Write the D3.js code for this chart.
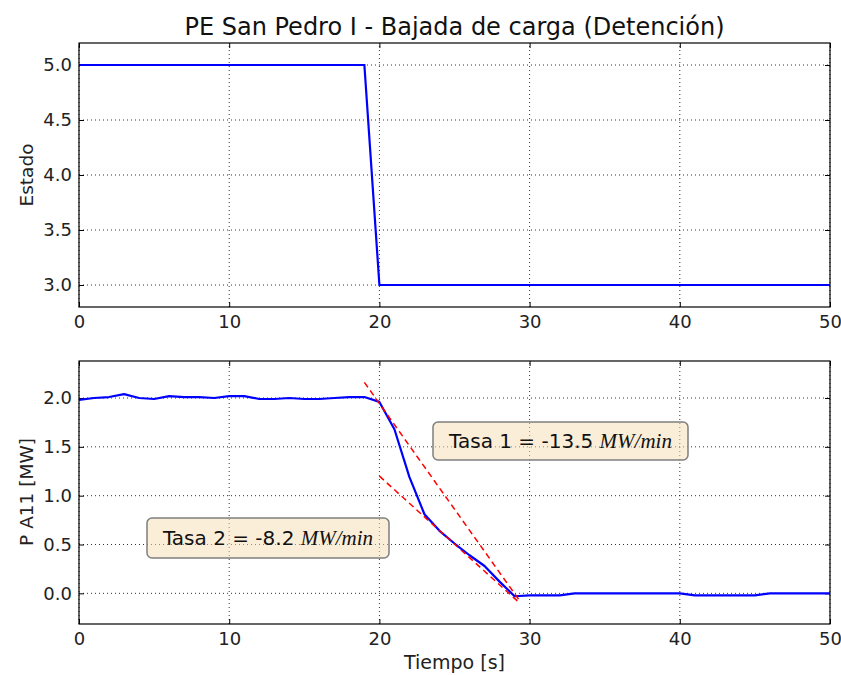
<!DOCTYPE html>
<html>
<head>
<meta charset="utf-8">
<script src="https://cdn.jsdelivr.net/npm/d3@7"></script>
<style>
  body { margin: 0; background: #fff; }
  svg { font-family: "DejaVu Sans", sans-serif; }
</style>
</head>
<body>
<div id="chart"></div>
<script>
// data
var estadoT = [0, 19, 20, 50];
var estadoV = [5, 5, 3, 3];

var potT = [0, 1, 2, 3, 4, 5, 6, 7, 8, 9, 10, 11, 12, 13, 14, 15, 16, 17, 18, 19, 20,
            21, 22, 23, 24, 25, 26, 27, 28, 29, 30, 31, 32, 33, 34, 35, 36, 37, 38, 39, 40,
            41, 42, 43, 44, 45, 46, 47, 48, 49, 50];
var potV = [1.98, 2.0, 2.01, 2.04, 2.0, 1.99, 2.02, 2.01, 2.01, 2.0, 2.02, 2.02, 1.99, 1.99, 2.0, 1.99, 1.99, 2.0, 2.01, 2.01, 1.96,
            1.68, 1.19, 0.81, 0.64, 0.51, 0.39, 0.28, 0.12, -0.03, -0.02, -0.02, -0.02, 0.0, 0.0, 0.0, 0.0, 0.0, 0.0, 0.0, 0.0,
            -0.02, -0.02, -0.02, -0.02, -0.02, 0.0, 0.0, 0.0, 0.0, 0.0];

// fitted rate lines (dashed red)
var tasa1T = [19, 29.4];
var tasa1V = [2.16, -0.09];
var tasa2T = [20, 29.2];
var tasa2V = [1.2, -0.08];

var xTicks = [0, 10, 20, 30, 40, 50];
var topTicks = [3.0, 3.5, 4.0, 4.5, 5.0];
var botTicks = [0.0, 0.5, 1.0, 1.5, 2.0];

var W = 841, H = 675;
var left = 79, right = 830;

var svg = d3.select("#chart").append("svg")
  .attr("width", W)
  .attr("height", H);

var x = d3.scaleLinear().domain([0, 50]).range([left, right]);
var yTop = d3.scaleLinear().domain([2.8, 5.2]).range([307, 43]);
var yBot = d3.scaleLinear().domain([-0.314, 2.379]).range([624, 361]);

function drawPanel(y, yticks, ylabel, yLabelY) {
  var g = svg.append("g");
  var y0 = y.range()[0], y1 = y.range()[1];

  // grid
  g.selectAll(".gx").data(xTicks).enter().append("line")
    .attr("x1", function(d){ return x(d); }).attr("x2", function(d){ return x(d); })
    .attr("y1", y0).attr("y2", y1)
    .style("stroke", "#000").style("stroke-width", 0.8)
    .style("stroke-dasharray", "1,3");
  g.selectAll(".gy").data(yticks).enter().append("line")
    .attr("x1", left).attr("x2", right)
    .attr("y1", function(d){ return y(d); }).attr("y2", function(d){ return y(d); })
    .style("stroke", "#000").style("stroke-width", 0.8)
    .style("stroke-dasharray", "1,3");

  // inward ticks on all sides
  var ax = d3.axisBottom(x).tickValues(xTicks).tickSizeInner(-5).tickSizeOuter(0).tickFormat(d3.format("d"));
  var gxa = g.append("g").attr("transform", "translate(0," + y0 + ")").call(ax);
  gxa.select(".domain").remove();
  gxa.selectAll("text").attr("dy", "0").attr("y", 21)
    .style("font-size", "18px").style("fill", "#222").style("font-family", "DejaVu Sans");
  var axt = d3.axisTop(x).tickValues(xTicks).tickSizeInner(-5).tickSizeOuter(0).tickFormat("");
  var gxt = g.append("g").attr("transform", "translate(0," + y1 + ")").call(axt);
  gxt.select(".domain").remove();

  var ay = d3.axisLeft(y).tickValues(yticks).tickSizeInner(-5).tickSizeOuter(0).tickFormat(d3.format(".1f"));
  var gya = g.append("g").attr("transform", "translate(" + left + ",0)").call(ay);
  gya.select(".domain").remove();
  gya.selectAll("text").attr("x", -7)
    .style("font-size", "18px").style("fill", "#222").style("font-family", "DejaVu Sans");
  var ayr = d3.axisRight(y).tickValues(yticks).tickSizeInner(-5).tickSizeOuter(0).tickFormat("");
  var gyr = g.append("g").attr("transform", "translate(" + right + ",0)").call(ayr);
  gyr.select(".domain").remove();

  g.selectAll(".tick line").style("stroke", "#000");

  // label
  svg.append("text")
    .attr("transform", "translate(33," + yLabelY + ") rotate(-90)")
    .attr("text-anchor", "middle")
    .style("font-size", "18.5px").style("fill", "#222")
    .text(ylabel);
  return g;
}

function frame(y) {
  svg.append("rect")
    .attr("x", left).attr("y", y.range()[1])
    .attr("width", right - left).attr("height", y.range()[0] - y.range()[1])
    .style("fill", "none").style("stroke", "#000").style("stroke-width", 1.2);
}

// ---- top panel
drawPanel(yTop, topTicks, "Estado", 175);
var estado = estadoT.map(function(t, i){ return [t, estadoV[i]]; });
svg.append("path")
  .datum(estado)
  .attr("d", d3.line().x(function(d){ return x(d[0]); }).y(function(d){ return yTop(d[1]); }))
  .style("fill", "none").style("stroke", "#0000ff").style("stroke-width", 2.2);
frame(yTop);

svg.append("text")
  .attr("x", (left + right) / 2).attr("y", 35)
  .attr("text-anchor", "middle")
  .style("font-size", "24px").style("fill", "#111")
  .text("PE San Pedro I - Bajada de carga (Detención)");

// ---- bottom panel
drawPanel(yBot, botTicks, "P A11 [MW]", 492);

var clip = svg.append("clipPath").attr("id", "clipBot")
  .append("rect").attr("x", left).attr("y", 361).attr("width", right - left).attr("height", 624 - 361);

var line = d3.line().x(function(d){ return x(d[0]); }).y(function(d){ return yBot(d[1]); });

var pot = potT.map(function(t, i){ return [t, potV[i]]; });
svg.append("path")
  .datum(pot)
  .attr("clip-path", "url(#clipBot)")
  .attr("d", line)
  .style("fill", "none").style("stroke", "#0000ff").style("stroke-width", 2.2)
  .style("stroke-linejoin", "round");

[[tasa1T, tasa1V], [tasa2T, tasa2V]].forEach(function(p) {
  svg.append("path")
    .datum(p[0].map(function(t, i){ return [t, p[1][i]]; }))
    .attr("d", line)
    .style("fill", "none").style("stroke", "#ff0000").style("stroke-width", 1.5)
    .style("stroke-dasharray", "6,4");
});

frame(yBot);

svg.append("text")
  .attr("x", (left + right) / 2).attr("y", 669)
  .attr("text-anchor", "middle")
  .style("font-size", "19px").style("fill", "#222")
  .text("Tiempo [s]");

// annotation boxes
function note(bx, by, bw, bh, label, val) {
  var g = svg.append("g");
  g.append("rect")
    .attr("x", bx).attr("y", by).attr("width", bw).attr("height", bh)
    .attr("rx", 5).attr("ry", 5)
    .style("fill", "#f5deb3").style("fill-opacity", 0.5)
    .style("stroke", "#7f7f7f").style("stroke-width", 1.5);
  var t = g.append("text")
    .attr("x", bx + bw / 2).attr("y", by + bh / 2 + 7)
    .attr("text-anchor", "middle")
    .style("font-size", "20px").style("fill", "#111");
  t.append("tspan").text(label + " = " + val + " ");
  t.append("tspan")
    .style("font-family", "'Liberation Serif', serif").style("font-style", "italic")
    .style("font-size", "21px")
    .text("MW/min");
}
note(433, 422, 255, 38, "Tasa 1", "-13.5");
note(147, 518, 242, 40, "Tasa 2", "-8.2");
</script>
</body>
</html>
